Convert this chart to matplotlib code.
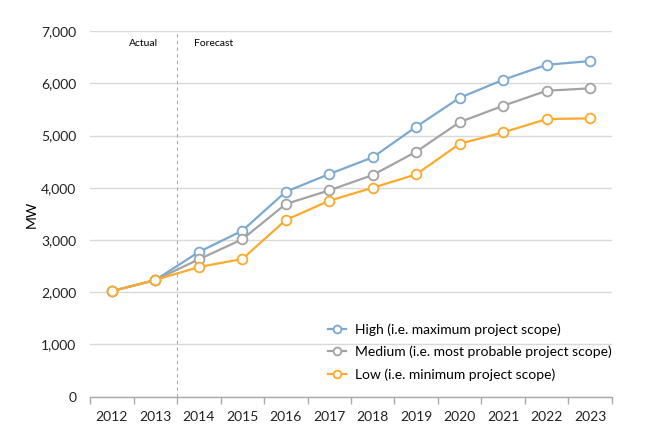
import matplotlib.pyplot as plt
import numpy as np

plt.rcParams['font.family'] = ['Lato', 'DejaVu Sans']

# Данные
years = ['2012', '2013', '2014', '2015', '2016', '2017',
         '2018', '2019', '2020', '2021', '2022', '2023']
high = [2020, 2234, 2770, 3178, 3924, 4263, 4583, 5169, 5724, 6068, 6355, 6426]
medium = [2020, 2234, 2630, 3013, 3689, 3951, 4244, 4690, 5258, 5570, 5858, 5904]
low = [2020, 2234, 2483, 2636, 3383, 3752, 4001, 4257, 4843, 5061, 5316, 5329]

labels = ['High (i.e. maximum project scope)',
          'Medium (i.e. most probable project scope)',
          'Low (i.e. minimum project scope)']
colors = ['#7BA9CF', '#A3A3A5', '#FBAA2C']

fig = plt.figure(figsize=(6.5, 4.44), dpi=100)
ax = fig.add_axes([0.1385, 0.1065, 0.803, 0.8235])

x = np.arange(len(years))
for vals, lab, c in zip([high, medium, low], labels, colors):
    ax.plot(x, vals, color=c, linewidth=1.6, marker='o', markersize=7,
            markerfacecolor='white', markeredgecolor=c, markeredgewidth=1.3,
            label=lab, zorder=3)

ax.set_xlim(-0.5, len(years) - 0.5)
ax.set_ylim(0, 7000)
ax.set_yticks(range(0, 7001, 1000))
ax.set_yticklabels([f'{v:,}' for v in range(0, 7001, 1000)])
ax.set_xticks(x)
ax.set_xticklabels(years)
ax.set_xticks(np.arange(-0.5, len(years)), minor=True)
ax.tick_params(axis='x', which='major', length=0, pad=10, labelsize=10, colors='#222222')
ax.tick_params(axis='x', which='minor', length=5, color='#AAAAAA', width=1)
ax.tick_params(axis='y', length=0, pad=10, labelsize=10, colors='#222222')

ax.grid(axis='y', color='#D9D9D9', linewidth=1)
ax.set_axisbelow(True)
for s in ['top', 'right', 'left']:
    ax.spines[s].set_visible(False)
ax.spines['bottom'].set_color('#AAAAAA')
ax.spines['bottom'].set_linewidth(1)

ax.axvline(1.5, color='#AAAAAA', linestyle=(0, (3, 3)), linewidth=0.8, zorder=1)
ax.text(0.74, 6770, 'Actual', fontsize=7.5, ha='center', va='center')
ax.text(1.9, 6770, 'Forecast', fontsize=7.5, ha='left', va='center')

ax.set_ylabel('MW', fontsize=10, labelpad=2)

ax.legend(loc='lower right', frameon=False, fontsize=10, handlelength=1.25,
          bbox_to_anchor=(1.012, 0.025), borderpad=0, labelspacing=0.7,
          handletextpad=0.65, markerscale=0.8)

fig.savefig('out.png', dpi=100)
